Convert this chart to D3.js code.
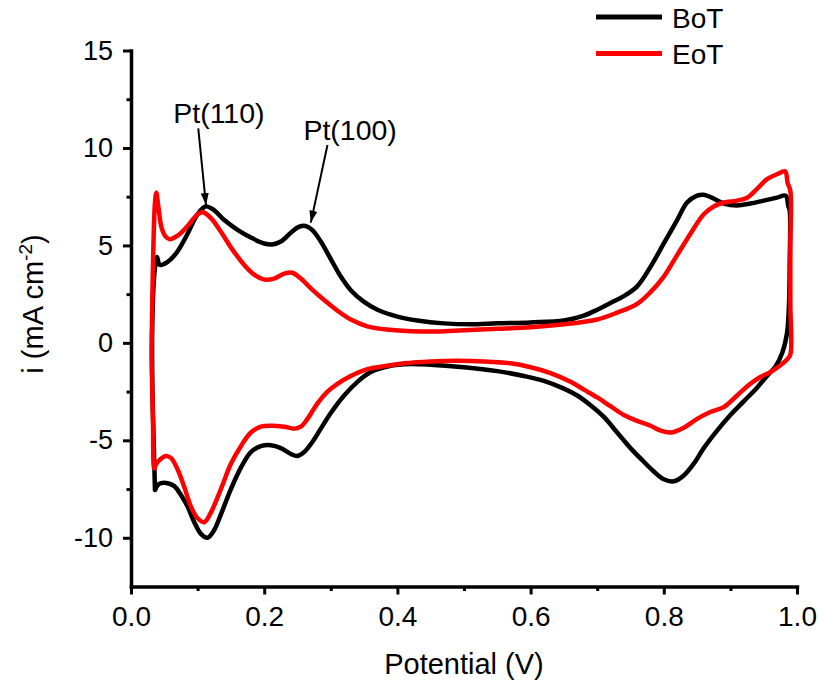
<!DOCTYPE html>
<html>
<head>
<meta charset="utf-8">
<script src="https://cdn.jsdelivr.net/npm/d3@7"></script>
<style>
  html, body { margin: 0; padding: 0; background: #fff; }
  svg { display: block; font-family: "Liberation Sans", Arial, sans-serif; }
</style>
</head>
<body>
<svg id="chart" width="819" height="686"></svg>
<script>
// ---------- DATA ----------
const seriesNames = ["BoT", "EoT"];
const seriesColors = ["#000000", "#ff0000"];

const botPotential = [0.036, 0.034, 0.032, 0.032, 0.035, 0.039, 0.043, 0.05, 0.06, 0.07, 0.085, 0.1, 0.112, 0.125, 0.14, 0.16, 0.18, 0.2, 0.212, 0.225, 0.24, 0.252, 0.262, 0.272, 0.285, 0.3, 0.315, 0.33, 0.35, 0.37, 0.4, 0.43, 0.47, 0.51, 0.55, 0.6, 0.65, 0.68, 0.7, 0.72, 0.74, 0.76, 0.78, 0.8, 0.82, 0.835, 0.85, 0.86, 0.872, 0.89, 0.91, 0.93, 0.95, 0.97, 0.983, 0.987, 0.989, 0.989, 0.988, 0.985, 0.978, 0.968, 0.955, 0.94, 0.92, 0.9, 0.88, 0.86, 0.845, 0.83, 0.815, 0.8, 0.785, 0.77, 0.75, 0.73, 0.71, 0.69, 0.67, 0.65, 0.62, 0.59, 0.55, 0.5, 0.45, 0.41, 0.38, 0.36, 0.34, 0.32, 0.3, 0.285, 0.272, 0.26, 0.25, 0.24, 0.225, 0.21, 0.195, 0.18, 0.165, 0.15, 0.135, 0.125, 0.115, 0.105, 0.095, 0.085, 0.075, 0.065, 0.055, 0.045, 0.04, 0.036];
const botCurrent = [-7.55, -5, -2, 1, 3.5, 4.4, 4.0, 4.05, 4.3, 4.7, 5.6, 6.6, 7.0, 6.8, 6.3, 5.8, 5.4, 5.1, 5.05, 5.2, 5.65, 5.95, 6.0, 5.8, 5.2, 4.3, 3.4, 2.7, 2.1, 1.7, 1.35, 1.15, 1.0, 0.95, 1.0, 1.05, 1.15, 1.4, 1.7, 2.05, 2.4, 2.9, 3.9, 5.1, 6.3, 7.2, 7.55, 7.6, 7.45, 7.15, 7.05, 7.15, 7.3, 7.45, 7.55, 7.0, 6.8, 4.0, 2.0, 0.5, -0.5, -1.2, -1.7, -2.3, -3.0, -3.7, -4.5, -5.4, -6.2, -6.8, -7.1, -7.0, -6.6, -6.1, -5.4, -4.6, -3.8, -3.2, -2.7, -2.35, -1.95, -1.7, -1.45, -1.25, -1.12, -1.1, -1.25, -1.5, -2.0, -2.7, -3.6, -4.4, -5.1, -5.6, -5.8, -5.7, -5.4, -5.25, -5.3, -5.6, -6.4, -7.5, -8.8, -9.6, -10.0, -9.8, -9.2, -8.4, -7.8, -7.35, -7.2, -7.2, -7.3, -7.55];

const eotPotential = [0.031, 0.033, 0.036, 0.038, 0.041, 0.046, 0.052, 0.058, 0.07, 0.085, 0.1, 0.108, 0.12, 0.135, 0.15, 0.17, 0.185, 0.2, 0.215, 0.23, 0.242, 0.255, 0.27, 0.29, 0.31, 0.33, 0.355, 0.38, 0.42, 0.46, 0.5, 0.55, 0.6, 0.65, 0.7, 0.73, 0.76, 0.78, 0.8, 0.82, 0.84, 0.86, 0.875, 0.89, 0.91, 0.925, 0.94, 0.955, 0.97, 0.982, 0.986, 0.99, 0.99, 0.99, 0.99, 0.985, 0.975, 0.96, 0.945, 0.93, 0.91, 0.89, 0.87, 0.85, 0.83, 0.81, 0.795, 0.78, 0.76, 0.74, 0.72, 0.7, 0.68, 0.66, 0.63, 0.6, 0.57, 0.53, 0.49, 0.45, 0.41, 0.38, 0.355, 0.33, 0.31, 0.295, 0.28, 0.265, 0.255, 0.245, 0.23, 0.21, 0.195, 0.18, 0.165, 0.15, 0.135, 0.12, 0.11, 0.1, 0.09, 0.08, 0.07, 0.06, 0.052, 0.045, 0.038, 0.035, 0.033, 0.031, 0.031];
const eotCurrent = [0, 4, 7.2, 7.7, 7.0, 5.9, 5.45, 5.32, 5.5, 6.0, 6.6, 6.7, 6.4, 5.7, 4.9, 4.0, 3.5, 3.25, 3.3, 3.55, 3.6, 3.3, 2.8, 2.2, 1.65, 1.2, 0.85, 0.7, 0.6, 0.58, 0.65, 0.72, 0.8, 0.95, 1.2, 1.55, 2.0, 2.6, 3.4, 4.5, 5.6, 6.6, 7.0, 7.2, 7.3, 7.45, 7.9, 8.4, 8.65, 8.8, 8.2, 7.8, 5.0, 2.0, -0.6, -0.85, -1.15, -1.5, -1.75, -2.1, -2.7, -3.3, -3.55, -3.9, -4.35, -4.6, -4.5, -4.25, -4.0, -3.7, -3.25, -2.8, -2.4, -2.0, -1.55, -1.25, -1.05, -0.95, -0.92, -0.95, -1.05, -1.2, -1.35, -1.7, -2.1, -2.5, -3.1, -3.9, -4.3, -4.4, -4.3, -4.25, -4.3, -4.6, -5.3, -6.2, -7.5, -8.7, -9.2, -9.0, -8.4, -7.4, -6.5, -5.9, -5.8, -5.95, -6.2, -6.45, -4, -1, 0];

const xMajorTicks = [0.0, 0.2, 0.4, 0.6, 0.8, 1.0];
const xMinorTicks = [0.1, 0.3, 0.5, 0.7, 0.9];
const yMajorTicks = [-10, -5, 0, 5, 10, 15];
const yMinorTicks = [-7.5, -2.5, 2.5, 7.5, 12.5];

const annotationTexts = ["Pt(110)", "Pt(100)"];
const annotationLabelAt = [[0.132, 11.27], [0.329, 10.41]];
const annotationArrowFrom = [[0.101, 11.0], [0.295, 10.15]];
const annotationArrowTo = [[0.1126, 7.07], [0.27, 6.17]];

const xTitle = "Potential (V)";

// ---------- CHART ----------
const svg = d3.select("#chart");
const x = d3.scaleLinear().domain([0, 1]).range([131, 797]);
const y = d3.scaleLinear().domain([-12.5, 15]).range([586.5, 50.5]);

const axisW = 3.5;
const xAxisG = svg.append("g").attr("transform", `translate(0,${y(-12.5)})`);
xAxisG.call(d3.axisBottom(x).tickValues(xMajorTicks).tickFormat(d => d.toFixed(1))
  .tickSize(8).tickSizeOuter(0).tickPadding(12));
const xMinorG = svg.append("g").attr("transform", `translate(0,${y(-12.5)})`);
xMinorG.call(d3.axisBottom(x).tickValues(xMinorTicks).tickFormat("").tickSize(4.5).tickSizeOuter(0));
xMinorG.select(".domain").remove();

const yAxisG = svg.append("g").attr("transform", `translate(${x(0)},0)`);
yAxisG.call(d3.axisLeft(y).tickValues(yMajorTicks).tickFormat(d => String(d))
  .tickSize(8).tickSizeOuter(0).tickPadding(10));
const yMinorG = svg.append("g").attr("transform", `translate(${x(0)},0)`);
yMinorG.call(d3.axisLeft(y).tickValues(yMinorTicks).tickFormat("").tickSize(4.5).tickSizeOuter(0));
yMinorG.select(".domain").remove();

svg.selectAll(".domain").attr("stroke", "#000").attr("stroke-width", axisW).attr("stroke-linecap", "square");
svg.selectAll(".tick line").attr("stroke", "#000").attr("stroke-width", 3);
xAxisG.selectAll(".tick text").attr("font-size", 28).attr("fill", "#000")
  .attr("font-family", "'Liberation Sans', Arial, sans-serif");
yAxisG.selectAll(".tick text").attr("font-size", 27).attr("fill", "#000")
  .attr("font-family", "'Liberation Sans', Arial, sans-serif");

svg.append("text").attr("x", 464).attr("y", 674).attr("text-anchor", "middle")
  .attr("font-size", 29).attr("fill", "#000").text(xTitle);

const yt = svg.append("text").attr("transform", "translate(43,304) rotate(-90)")
  .attr("text-anchor", "middle").attr("font-size", 29).attr("fill", "#000");
yt.append("tspan").text("i (mA cm");
yt.append("tspan").attr("dy", -11).attr("font-size", 19).text("-2");
yt.append("tspan").attr("dy", 11).text(")");

const line = d3.line().x(d => x(d[0])).y(d => y(d[1])).curve(d3.curveCatmullRom.alpha(0.5));
const series = [
  d3.zip(botPotential, botCurrent),
  d3.zip(eotPotential, eotCurrent)
];
series.forEach((pts, i) => {
  svg.append("path").datum(pts).attr("d", line)
    .attr("fill", "none").attr("stroke", seriesColors[i]).attr("stroke-width", 4.5)
    .attr("stroke-linejoin", "round").attr("stroke-linecap", "round");
});

const defs = svg.append("defs");
defs.append("marker").attr("id", "arrowhead").attr("viewBox", "0 0 12 8")
  .attr("refX", 12).attr("refY", 4).attr("markerWidth", 12).attr("markerHeight", 8)
  .attr("markerUnits", "userSpaceOnUse").attr("orient", "auto")
  .append("path").attr("d", "M0,0 L12,4 L0,8 Z").attr("fill", "#000");

annotationTexts.forEach((t, i) => {
  svg.append("text").attr("x", x(annotationLabelAt[i][0])).attr("y", y(annotationLabelAt[i][1]))
    .attr("text-anchor", "middle").attr("font-size", 28.5).attr("fill", "#000").text(t);
  svg.append("line")
    .attr("x1", x(annotationArrowFrom[i][0])).attr("y1", y(annotationArrowFrom[i][1]))
    .attr("x2", x(annotationArrowTo[i][0])).attr("y2", y(annotationArrowTo[i][1]))
    .attr("stroke", "#000").attr("stroke-width", 2).attr("marker-end", "url(#arrowhead)");
});

const legend = svg.append("g");
seriesNames.forEach((name, i) => {
  const ly = 17 + i * 36.5;
  legend.append("line").attr("x1", 596).attr("x2", 662).attr("y1", ly).attr("y2", ly)
    .attr("stroke", seriesColors[i]).attr("stroke-width", 5);
  legend.append("text").attr("x", 672).attr("y", ly + 10.5).attr("font-size", 28)
    .attr("fill", "#000").text(name);
});
</script>
</body>
</html>
